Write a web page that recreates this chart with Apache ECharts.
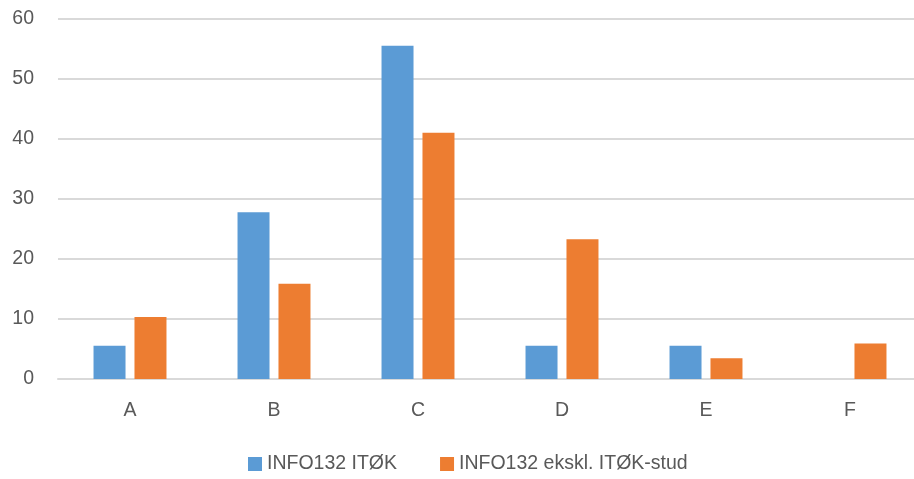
<!DOCTYPE html>
<html>
<head>
<meta charset="utf-8">
<script src="https://cdn.jsdelivr.net/npm/echarts@6/dist/echarts.min.js"></script>
<style>
html,body{margin:0;padding:0;background:#fff;overflow:hidden;}
#wrap{width:914px;height:479px;overflow:hidden;}
#chart{width:922px;height:479px;}
</style>
</head>
<body>
<div id="wrap"><div id="chart"></div></div>
<script>
const categories = ['A', 'B', 'C', 'D', 'E', 'F'];
const seriesNames = ['INFO132 ITØK', 'INFO132 ekskl. ITØK-stud'];
const itokValues = [5.56, 27.78, 55.56, 5.56, 5.56, 0];
const eksklValues = [10.34, 15.86, 41.03, 23.28, 3.45, 5.9];
const yTicks = { min: 0, max: 60, interval: 10 };

const font = '"Liberation Sans", Arial, sans-serif';
const chart = echarts.init(document.getElementById('chart'), null, { renderer: 'canvas' });
chart.setOption({
  animation: false,
  color: ['#5B9BD5', '#ED7D31'],
  textStyle: { fontFamily: font },
  grid: { left: 58, right: 0, top: 19, bottom: 100, containLabel: false },
  legend: {
    data: seriesNames,
    left: 248,
    top: 454,
    padding: 0,
    itemWidth: 14,
    itemHeight: 14,
    itemGap: 43,
    icon: 'rect',
    textStyle: { fontFamily: font, fontSize: 19.5, color: '#595959' }
  },
  xAxis: {
    type: 'category',
    data: categories,
    axisLine: { lineStyle: { color: '#D9D9D9', width: 2 } },
    axisTick: { show: false },
    axisLabel: { fontFamily: font, fontSize: 19.5, color: '#595959', margin: 22 }
  },
  yAxis: {
    type: 'value',
    min: yTicks.min,
    max: yTicks.max,
    interval: yTicks.interval,
    axisLine: { show: false },
    axisTick: { show: false },
    splitLine: { lineStyle: { color: '#D9D9D9', width: 2 } },
    axisLabel: { fontFamily: font, fontSize: 19.5, color: '#595959', margin: 24 }
  },
  series: [
    { name: seriesNames[0], type: 'bar', data: itokValues, barWidth: 32, barGap: '28%' },
    { name: seriesNames[1], type: 'bar', data: eksklValues, barWidth: 32, barGap: '28%' }
  ]
});
</script>
</body>
</html>
